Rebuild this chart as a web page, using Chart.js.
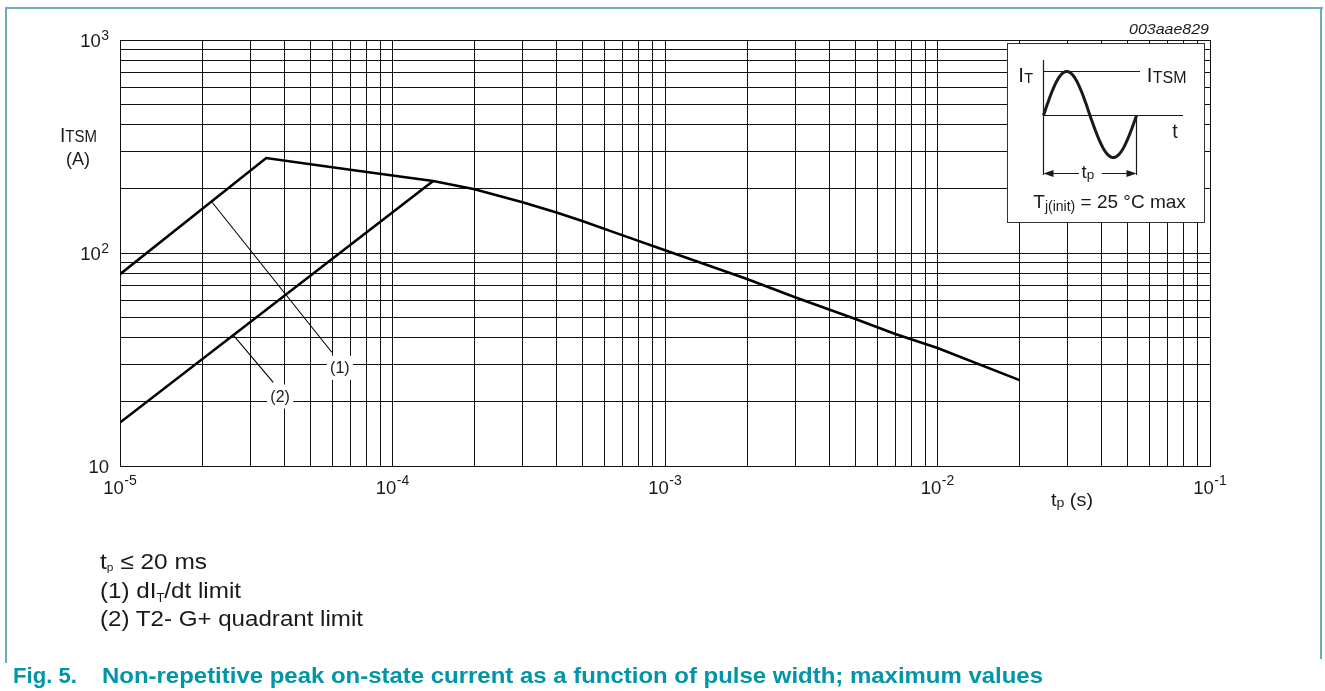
<!DOCTYPE html>
<html><head><meta charset="utf-8">
<script src="https://cdn.jsdelivr.net/npm/chart.js@4.4.1/dist/chart.umd.min.js"></script>
<style>
html,body{margin:0;padding:0;background:#fff;}
#wrap{position:relative;width:1325px;height:691px;overflow:hidden;background:#fff;font-family:"Liberation Sans",Arial,sans-serif;color:#1a1a1a;}
#c{position:absolute;left:0;top:0;}
.t{position:absolute;white-space:nowrap;transform-origin:0 0;line-height:1;}
.sb{position:relative;}
.frame{position:absolute;background:#6aaeb9;}
</style></head><body>
<div id="wrap">
<div class="frame" style="left:5px;top:7px;width:1318px;height:2px;"></div>
<div class="frame" style="left:5px;top:7px;width:2px;height:656px;"></div>
<div class="frame" style="left:1320px;top:7px;width:2px;height:652px;"></div>
<canvas id="c" width="1325" height="691"></canvas>
</div>
<script>
// ---------- data ----------
const curve1X = [1e-5, 3.44e-5, 5e-5, 7e-5, 1e-4, 1.41e-4, 2e-4, 3e-4, 4e-4, 5e-4, 7e-4, 1e-3, 2e-3, 3e-3, 5e-3, 7e-3, 1e-2, 2e-2];
const curve1Y = [79.5, 279, 261, 246, 231, 218, 199, 173, 155, 141, 121, 103, 75.5, 62, 49, 41.7, 35.8, 25.3];
const curve2X = [1e-5, 1.41e-4];
const curve2Y = [16, 218];
const leader1X = [2.17e-5, 5.99e-5];
const leader1Y = [174, 34.2];
const leader2X = [2.61e-5, 3.65e-5];
const leader2Y = [41, 24.7];
const labelX = [6.41e-5, 3.87e-5];
const labelY = [28.9, 21.2];
const labelText = ['(1)', '(2)'];
const xDecades = [1e-5, 1e-4, 1e-3, 1e-2];
const xEnd = 1e-1;
const yDecades = [10, 100];
const yEnd = 1000;
const gridMult = [1, 2, 3, 4, 5, 6, 7, 8, 9];
const xTickLabels = ['10|-5', '10|-4', '10|-3', '10|-2', '10|-1'];
const yTickLabels = ['10|', '10|2', '10|3'];

const pts = (xs, ys) => xs.map((x, i) => ({x, y: ys[i]}));
const gridVals = (decs, end) => { const a = []; decs.forEach(d => gridMult.forEach(m => a.push(m * d))); a.push(end); return a; };
const xGrid = gridVals(xDecades, xEnd);
const yGrid = gridVals(yDecades, yEnd);
const xMajor = xDecades.concat([xEnd]);
const yMajor = yDecades.concat([yEnd]);

const INK = '#1a1a1a';
const FONT = '"Liberation Sans", Arial, sans-serif';

function drawSup(ctx, base, sup, x, y, align, fs, sfs, supDy) {
  ctx.font = fs + 'px ' + FONT;
  const wb = ctx.measureText(base).width;
  ctx.font = sfs + 'px ' + FONT;
  const ws = sup ? ctx.measureText(sup).width + 0.5 : 0;
  const tot = wb + ws;
  let x0 = align === 'center' ? x - tot / 2 : (align === 'right' ? x - tot : x);
  ctx.textAlign = 'left'; ctx.textBaseline = 'alphabetic';
  ctx.font = fs + 'px ' + FONT; ctx.fillText(base, x0, y);
  if (sup) { ctx.font = sfs + 'px ' + FONT; ctx.fillText(sup, x0 + wb + 0.5, y + supDy); }
  return x0 + tot;
}

const overlay = {
  id: 'overlay',
  afterDatasetsDraw(chart) {
    const ctx = chart.ctx, xs = chart.scales.x, ys = chart.scales.y, ca = chart.chartArea;
    ctx.save();
    ctx.fillStyle = INK;
    labelText.forEach((t, i) => {
      const px = xs.getPixelForValue(labelX[i]), py = ys.getPixelForValue(labelY[i]);
      ctx.fillStyle = '#fff';
      ctx.fillRect(px - 13, py - 12, 26, 24);
      ctx.fillStyle = INK;
      ctx.font = '16px ' + FONT; ctx.textAlign = 'center'; ctx.textBaseline = 'alphabetic';
      ctx.fillText(t, px, py + 5.5);
    });
    // inset diagram
    const ox = ca.right - 203, oy = ca.top + 3;
    ctx.fillStyle = '#fff'; ctx.fillRect(ox, oy, 197, 179);
    ctx.strokeStyle = '#333'; ctx.lineWidth = 1; ctx.strokeRect(ox + 0.5, oy + 0.5, 197, 179);
    ctx.strokeStyle = INK; ctx.lineWidth = 1.2;
    const ax = ox + 36.5, zy = oy + 72.5, ty = oy + 28.5, rx = ox + 129.5, ay = oy + 130.5;
    ctx.beginPath();
    ctx.moveTo(ax, oy + 17); ctx.lineTo(ax, oy + 132);
    ctx.moveTo(ax, ty); ctx.lineTo(ox + 133, ty);
    ctx.moveTo(ax, zy); ctx.lineTo(ox + 176, zy);
    ctx.moveTo(rx, zy); ctx.lineTo(rx, oy + 132);
    ctx.moveTo(ax + 8, ay); ctx.lineTo(ox + 72, ay);
    ctx.moveTo(ox + 94.7, ay); ctx.lineTo(rx - 8, ay);
    ctx.stroke();
    ctx.fillStyle = INK;
    ctx.beginPath(); ctx.moveTo(ax, ay); ctx.lineTo(ax + 10, ay - 3.5); ctx.lineTo(ax + 10, ay + 3.5); ctx.closePath(); ctx.fill();
    ctx.beginPath(); ctx.moveTo(rx, ay); ctx.lineTo(rx - 10, ay - 3.5); ctx.lineTo(rx - 10, ay + 3.5); ctx.closePath(); ctx.fill();
    ctx.lineWidth = 3; ctx.lineJoin = 'round';
    ctx.beginPath();
    const W = rx - ax;
    for (let k = 0; k <= 120; k++) {
      const f = k / 120, s = Math.sin(2 * Math.PI * f);
      const amp = s >= 0 ? 44 : 42;
      const px = ax + f * W, py = zy - amp * s;
      if (k === 0) ctx.moveTo(px, py); else ctx.lineTo(px, py);
    }
    ctx.stroke();
    ctx.fillStyle = INK; ctx.textAlign = 'left'; ctx.textBaseline = 'alphabetic';
    let e;
    ctx.font = '20.5px ' + FONT; ctx.fillText('I', ox + 11.3, oy + 39);
    e = ox + 11.3 + ctx.measureText('I').width + 0.3;
    ctx.font = '14.5px ' + FONT; ctx.fillText('T', e, oy + 39.5);
    ctx.font = '20.5px ' + FONT; ctx.fillText('I', ox + 139.7, oy + 39);
    e = ox + 139.7 + ctx.measureText('I').width + 0.3;
    ctx.font = '16px ' + FONT; ctx.fillText('TSM', e, oy + 39.5);
    ctx.font = '19.5px ' + FONT; ctx.fillText('t', ox + 165.3, oy + 95);
    ctx.font = '18.5px ' + FONT; ctx.fillText('t', ox + 74.5, oy + 135);
    e = ox + 74.5 + ctx.measureText('t').width + 0.2;
    ctx.font = '13.5px ' + FONT; ctx.fillText('p', e, oy + 136);
    ctx.font = '19px ' + FONT; ctx.fillText('T', ox + 26.3, oy + 165);
    e = ox + 26.3 + ctx.measureText('T').width;
    ctx.font = '14px ' + FONT; ctx.fillText('j(init)', e, oy + 167.5);
    e += ctx.measureText('j(init)').width;
    ctx.font = '19px ' + FONT; ctx.fillText(' = 25 \u00B0C max', e, oy + 165);
    ctx.restore();
  },
  afterDraw(chart) {
    const ctx = chart.ctx, xs = chart.scales.x, ys = chart.scales.y, ca = chart.chartArea;
    ctx.save(); ctx.fillStyle = INK;
    xMajor.forEach((v, i) => {
      const [b, s] = xTickLabels[i].split('|');
      drawSup(ctx, b, s, xs.getPixelForValue(v), ca.bottom + 27.5, 'center', 18.5, 14, -8.5);
    });
    yMajor.forEach((v, i) => {
      const [b, s] = yTickLabels[i].split('|');
      drawSup(ctx, b, s, ca.left - 11, ys.getPixelForValue(v) + 7, 'right', 18.5, 14, -7);
    });
    ctx.restore();
  }
};

const gridStyle = {color: '#111', lineWidth: 1, drawTicks: false, tickLength: 0};
new Chart(document.getElementById('c'), {
  type: 'scatter',
  data: {datasets: [
    {data: pts(curve1X, curve1Y), showLine: true, borderColor: '#000', borderWidth: 2.6, pointRadius: 0, tension: 0},
    {data: pts(curve2X, curve2Y), showLine: true, borderColor: '#000', borderWidth: 2.6, pointRadius: 0, tension: 0},
    {data: pts(leader1X, leader1Y), showLine: true, borderColor: '#000', borderWidth: 1.1, pointRadius: 0},
    {data: pts(leader2X, leader2Y), showLine: true, borderColor: '#000', borderWidth: 1.1, pointRadius: 0}
  ]},
  options: {
    responsive: false, animation: false, devicePixelRatio: 1,
    layout: {padding: {left: 120, right: 115, top: 40, bottom: 225}},
    plugins: {legend: {display: false}, tooltip: {enabled: false}},
    scales: {
      x: {type: 'logarithmic', min: xDecades[0], max: xEnd,
          grid: gridStyle, border: {display: true, color: '#111', width: 1},
          ticks: {display: false},
          afterBuildTicks: s => { s.ticks = xGrid.map(v => ({value: v})); },
          afterFit: s => { s.height = 0; }},
      y: {type: 'logarithmic', min: yDecades[0], max: yEnd,
          grid: gridStyle, border: {display: true, color: '#111', width: 1},
          ticks: {display: false},
          afterBuildTicks: s => { s.ticks = yGrid.map(v => ({value: v})); },
          afterFit: s => { s.width = 0; }}
    }
  },
  plugins: [overlay]
});

// ---------- HTML text ----------
const wrap = document.getElementById('wrap');
function place(html, x, base, fs, width, extra) {
  const d = document.createElement('div');
  d.className = 't'; d.innerHTML = html;
  d.style.fontSize = fs + 'px'; d.style.left = x + 'px';
  d.style.top = (base - 0.8465 * fs) + 'px';
  if (extra) Object.assign(d.style, extra);
  wrap.appendChild(d);
  if (width) { const w = d.getBoundingClientRect().width; d.style.transform = 'scaleX(' + (width / w) + ')'; }
  return d;
}
place('003aae829', 1129.3, 33.3, 15, 80, {fontStyle: 'italic'});
place('I<span style="font-size:16px">TSM</span>', 60, 142, 20.5, 37);
place('(A)', 66, 165.5, 19, 24);
place('t<span class="sb" style="font-size:13.5px;top:1px">p</span> (s)', 1050.7, 506, 19, 42);
place('t<span class="sb" style="font-size:11px;top:2px">p</span> \u2264 20 ms', 100, 570.5, 22.5, 107);
place('(1) dI<span class="sb" style="font-size:12px;top:4px">T</span>/dt limit', 100, 599, 22.5, 141);
place('(2) T2- G+ quadrant limit', 100, 627.5, 22.5, 263);
place('Fig. 5.', 12.7, 684.5, 21.5, 64, {fontWeight: 'bold', color: '#0095a9'});
place('Non-repetitive peak on-state current as a function of pulse width; maximum values', 101.7, 684.5, 21.5, 941, {fontWeight: 'bold', color: '#0095a9'});
</script>
</body></html>
